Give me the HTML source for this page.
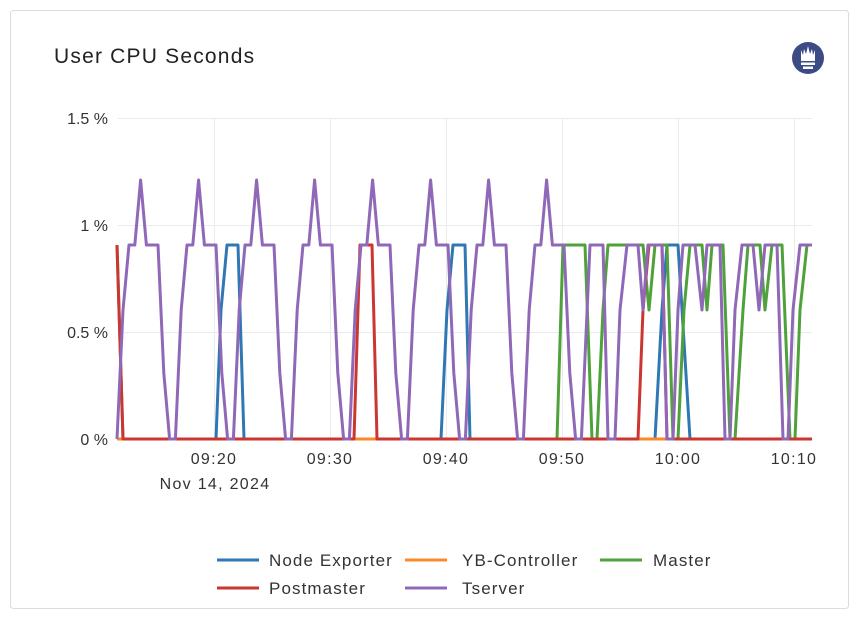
<!DOCTYPE html>
<html><head><meta charset="utf-8"><style>
html,body{margin:0;padding:0;background:#fff;}
body{width:860px;height:622px;overflow:hidden;font-family:"Liberation Sans",Arial,sans-serif;}
</style></head><body>
<svg id="s" width="860" height="622" xmlns="http://www.w3.org/2000/svg" font-family="Liberation Sans, Arial, sans-serif">
<rect x="10.5" y="10.5" width="838" height="598" rx="3" fill="#fff" stroke="#dcdcdc"/>
<text x="54" y="63" font-size="21" fill="#222" letter-spacing="1.2">User CPU Seconds</text>
<circle cx="808" cy="58" r="16" fill="#3c4a86"/>
<path d="M801 50 L803 55 L804 49 L806 54 L808 46 L810 54 L812 49 L813 55 L815 50 L815 61 L801 61 Z" fill="#fff"/>
<rect x="801" y="62.5" width="14" height="2.5" fill="#fff"/>
<rect x="803" y="66.5" width="10" height="2.5" fill="#fff"/>
<g stroke="#ebebeb" stroke-width="1">
<line x1="118" y1="118.5" x2="812" y2="118.5"/>
<line x1="118" y1="225.5" x2="812" y2="225.5"/>
<line x1="118" y1="332.5" x2="812" y2="332.5"/>
<line x1="214.5" y1="118" x2="214.5" y2="439"/>
<line x1="330.5" y1="118" x2="330.5" y2="439"/>
<line x1="446.5" y1="118" x2="446.5" y2="439"/>
<line x1="562.5" y1="118" x2="562.5" y2="439"/>
<line x1="678.5" y1="118" x2="678.5" y2="439"/>
<line x1="794.5" y1="118" x2="794.5" y2="439"/>
</g>
<g font-size="16" fill="#333" text-anchor="end">
<text x="108" y="124">1.5 %</text>
<text x="108" y="231">1 %</text>
<text x="108" y="338">0.5 %</text>
<text x="108" y="445">0 %</text>
</g>
<g font-size="16" fill="#333" text-anchor="middle" letter-spacing="1.3">
<text x="214" y="464">09:20</text>
<text x="330" y="464">09:30</text>
<text x="446" y="464">09:40</text>
<text x="562" y="464">09:50</text>
<text x="678" y="464">10:00</text>
<text x="794" y="464">10:10</text>
<text x="215" y="489">Nov 14, 2024</text>
</g>
<g id="lines" fill="none" stroke-width="3" stroke-linejoin="round"></g>
<g font-size="17" fill="#333" letter-spacing="1.1">
<line x1="217" y1="560" x2="259" y2="560" stroke="#2f78b4" stroke-width="3"/>
<text x="269" y="566">Node Exporter</text>
<line x1="405" y1="560" x2="447" y2="560" stroke="#f98a2a" stroke-width="3"/>
<text x="462" y="566">YB-Controller</text>
<line x1="600" y1="560" x2="642" y2="560" stroke="#4fa23b" stroke-width="3"/>
<text x="653" y="566">Master</text>
<line x1="217" y1="588" x2="259" y2="588" stroke="#cc3631" stroke-width="3"/>
<text x="269" y="594">Postmaster</text>
<line x1="405" y1="588" x2="447" y2="588" stroke="#9068b8" stroke-width="3"/>
<text x="462" y="594">Tserver</text>
</g>
</svg>
<script>
var Y={0:439,0.3:373,0.6:310,0.91:245,1.21:180};
function P(a){return a.map(function(p){return p[0].toFixed(1)+','+(Y[p[1]]!==undefined?Y[p[1]]:p[1])}).join(' ');}
var purple=[[117,0],[123,0.6]];
var pat=[0.91,0.91,1.21,0.91,0.91,0.91,0.3,0,0,0.6];
for(var k=0;k<8;k++){for(var j=0;j<10;j++){var x=129+58*k+5.8*j;if(k==7&&j==9)continue;purple.push([x,pat[j]]);}}
purple=purple.concat([[590,0.91],[603,0.91],[608,0],[615,0],[620,0.6],[627,0.91],[638,0.91],[643,0.6],[648,0.91],[662,0.91],[667,0],[673,0],[678,0.6],[683,0.91],[695,0.91],[702,0.6],[707,0.91],[720,0.91],[725,0],[730,0],[735,0.6],[742,0.91],[753,0.91],[759,0.6],[765,0.91],[777,0.91],[783,0],[788,0],[793,0.6],[800,0.91],[812,0.91]]);
var green=[[117,0.91],[123,0],[557,0],[563,0.91],[585,0.91],[592,0],[597,0],[603,0.6],[608,0.91],[643,0.91],[649,0.6],[655,0.91],[667,0.91],[673,0],[678,0],[684,0.6],[690,0.91],[697,0.91],[702,0.91],[707,0.6],[712,0.91],[723,0.91],[730,0],[735,0],[743,0.6],[748,0.91],[760,0.91],[765,0.6],[772,0.91],[782,0.91],[790,0],[795,0],[800,0.6],[807,0.91],[812,0.91]];
var blue=[[117,0],[216,0],[221,0.6],[227,0.91],[238,0.91],[244,0],[441,0],[447,0.6],[453,0.91],[465,0.91],[470,0],[655,0],[662,0.6],[667,0.91],[678,0.91],[690,0],[812,0]];
var orange=[[117,0],[812,0]];
var red=[[117,0.91],[123,0],[354,0],[360,0.91],[372,0.91],[377,0],[638,0],[643,0.6],[649,0.91],[662,0.91],[667,0],[812,0]];
var series=[[blue,'#2f78b4'],[green,'#4fa23b'],[orange,'#f98a2a'],[red,'#cc3631'],[purple,'#9068b8']];
var g=document.getElementById('lines');
series.forEach(function(s){var e=document.createElementNS('http://www.w3.org/2000/svg','polyline');e.setAttribute('points',P(s[0]));e.setAttribute('stroke',s[1]);g.appendChild(e);});
</script>
</body></html>
